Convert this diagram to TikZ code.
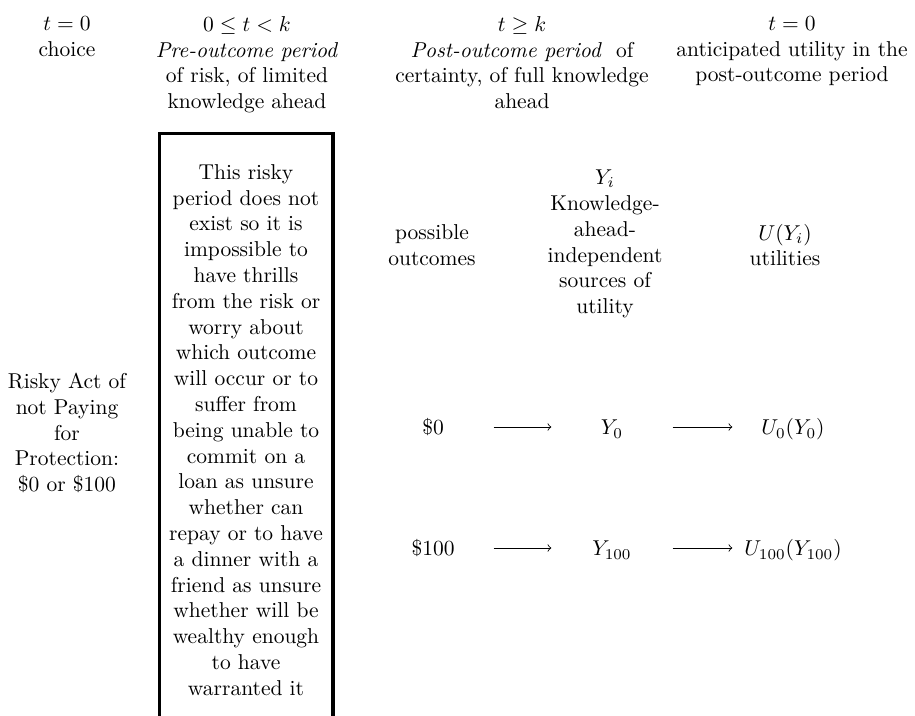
\documentclass[tikz,border=0pt]{standalone}
\usepackage{amsmath,amssymb}
\usepackage{tikz}
\usepackage{xcolor}

\begin{document}
\begin{tikzpicture}[x=0.465pt,y=-0.465pt,
  hdr/.style={anchor=north,align=center,inner sep=0pt},
  col/.style={align=center,inner sep=0pt},
  item/.style={minimum width=56pt,text height=10pt,text depth=2.6pt,inner sep=0pt},
  riskbox/.style={draw,line width=1.4pt,text width=75pt,inner xsep=2.95pt,align=center,minimum height=276.2pt}]
\useasboundingbox (0,0) rectangle (915,715);
\clip (0,0) rectangle (915,715);
% column heads
\node[hdr] (hchoice) at (67,16) {$t=0$\\choice};
\node[hdr] (hpre) at (247,16) {$0\leq t<k$\\\textit{Pre-outcome period}\\of risk, of limited\\knowledge ahead};
\node[hdr] (hpost) at (522,16) {$t\geq k$\\\textit{Post-outcome period}\ \ of\\certainty, of full knowledge\\ahead};
\node[hdr] (hant) at (792,16) {$t=0$\\anticipated utility in the\\post-outcome period};
% the risky period box, open at the bottom
\node[riskbox] (risk) at (246,430) {This risky\\period does not\\exist so it is\\impossible to\\have thrills\\from the risk or\\worry about\\which outcome\\will occur or to\\suffer from\\being unable to\\commit on a\\loan as unsure\\whether can\\repay or to have\\a dinner with a\\friend as unsure\\whether will be\\wealthy enough\\to have\\warranted it};
\node[col] (act) at (67,433) {Risky Act of\\not Paying\\for\\Protection:\\\$0 or \$100};
% sub heads
\node[col] (outc) at (432,245) {possible\\outcomes};
\node[col] (srcs) at (605,244) {$Y_i$\\Knowledge-\\ahead-\\independent\\sources of\\utility};
\node[col] (utls) at (785,245) {$U(Y_i)$\\utilities};
% outcomes
\node[item] (o0) at (433,427) {\$0};
\node[item] (y0) at (612,427) {$Y_0$};
\node[item] (u0) at (793,427) {$U_0(Y_0)$};
\node[item] (o1) at (433,548) {\$100};
\node[item] (y1) at (612,548) {$Y_{100}$};
\node[item] (u1) at (793,548) {$U_{100}(Y_{100})$};
\draw[->] (o0)--(y0);\draw[->] (y0)--(u0);
\draw[->] (o1)--(y1);\draw[->] (y1)--(u1);
\end{tikzpicture}
\end{document}
